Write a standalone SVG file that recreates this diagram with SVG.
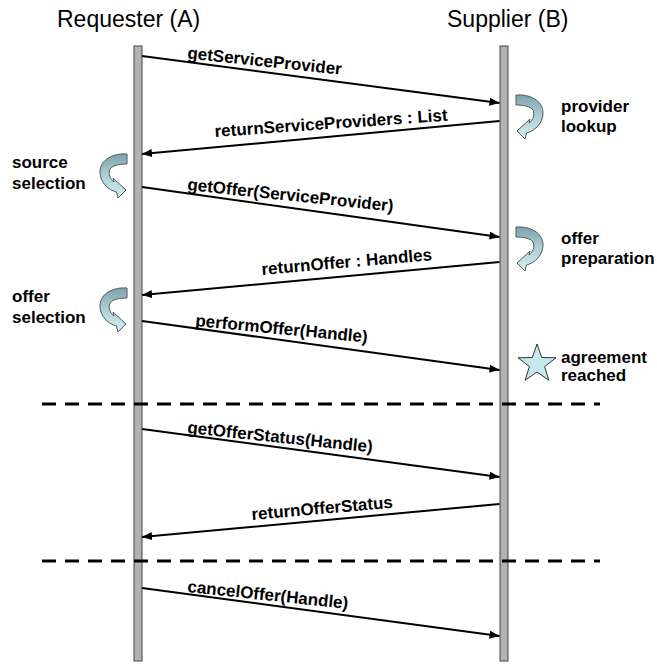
<svg xmlns="http://www.w3.org/2000/svg" width="657" height="664" viewBox="0 0 657 664">
  <style>
    .title { font-family: "Liberation Sans", Arial, sans-serif; font-size: 23px; fill: #000; }
    .msg { font-family: "Liberation Sans", Arial, sans-serif; font-size: 17px; font-weight: bold; fill: #000; }
    .note { font-family: "Liberation Sans", Arial, sans-serif; font-size: 17px; font-weight: bold; fill: #000; }
    .life { fill: #b2b2b2; stroke: #444; stroke-width: 1; }
    .conn { stroke: #000; stroke-width: 2; fill: none; marker-end: url(#ah); }
    .sep { stroke: #000; stroke-width: 3; stroke-dasharray: 14 9; fill: none; }
    .turn { fill: url(#turnFill); stroke: #555; stroke-width: 1; }
    .star { fill: #c6e9ed; stroke: #333; stroke-width: 1; }
  </style>
  <defs>
    <marker id="ah" viewBox="0 0 10 8" refX="10" refY="4" markerWidth="10" markerHeight="8" markerUnits="userSpaceOnUse" orient="auto">
      <path d="M0,0 L10,4 L0,8 z" fill="#000"/>
    </marker>
    <linearGradient id="turnFill" x1="0" y1="0" x2="0" y2="1">
      <stop offset="0" stop-color="#7aa2aa"/>
      <stop offset="0.45" stop-color="#a9cdd3"/>
      <stop offset="1" stop-color="#d2f0f4"/>
    </linearGradient>
    <!-- U-turn ribbon arrow, bulging to the right, arrowhead pointing back left -->
    <path id="uturn" d="M1,1 C14,0 28,6 28,19 C28,29 20,37 11.5,39 L10,45 L2,37 L15,25 L14,29 C18,26 20,21 18,16 C15,12 8,11 1,11 Z"/>
  </defs>

  <rect width="657" height="664" fill="#fff"/>

  <!-- participants -->
  <g id="requester">
    <text class="title" x="57" y="27">Requester (A)</text>
    <rect class="life" x="134" y="46" width="8" height="615"/>
  </g>
  <g id="supplier">
    <text class="title" x="447" y="27">Supplier (B)</text>
    <rect class="life" x="500" y="46" width="8" height="615"/>
  </g>

  <!-- local activities -->
  <g id="provider-lookup">
    <use href="#uturn" class="turn" transform="translate(515,94)"/>
    <text class="note" x="561" y="112">provider</text>
    <text class="note" x="561" y="132">lookup</text>
  </g>
  <g id="source-selection">
    <use href="#uturn" class="turn" transform="translate(128,153) scale(-1,1)"/>
    <text class="note" x="12" y="168">source</text>
    <text class="note" x="12" y="189">selection</text>
  </g>
  <g id="offer-preparation">
    <use href="#uturn" class="turn" transform="translate(515,226)"/>
    <text class="note" x="561" y="244">offer</text>
    <text class="note" x="561" y="264">preparation</text>
  </g>
  <g id="offer-selection">
    <use href="#uturn" class="turn" transform="translate(128,287) scale(-1,1)"/>
    <text class="note" x="12" y="302">offer</text>
    <text class="note" x="12" y="323">selection</text>
  </g>
  <g id="agreement-reached">
    <polygon class="star" points="537,344 541.7,357.5 556,357.8 544.6,366.5 548.8,380.2 537,372 525.2,380.2 529.4,366.5 518,357.8 532.3,357.5"/>
    <text class="note" x="561" y="363">agreement</text>
    <text class="note" x="561" y="381">reached</text>
  </g>

  <!-- phase separators -->
  <g id="separators">
    <line class="sep" x1="42" y1="404" x2="600" y2="404"/>
    <line class="sep" x1="42" y1="561" x2="600" y2="561"/>
  </g>

  <!-- messages -->
  <g id="connectors">
    <line class="conn" x1="142" y1="56" x2="499.5" y2="103"/>
    <text class="msg" x="187" y="58.5" transform="rotate(6 187 58.5)">getServiceProvider</text>

    <line class="conn" x1="499.5" y1="121" x2="142" y2="154"/>
    <text class="msg" x="215" y="137" transform="rotate(-4 215 137)">returnServiceProviders : List</text>

    <line class="conn" x1="142" y1="187" x2="499.5" y2="237"/>
    <text class="msg" x="187" y="190" transform="rotate(6 187 190)">getOffer(ServiceProvider)</text>

    <line class="conn" x1="499.5" y1="262" x2="142" y2="295"/>
    <text class="msg" x="262" y="275" transform="rotate(-5 262 275)">returnOffer : Handles</text>

    <line class="conn" x1="142" y1="321" x2="499.5" y2="370"/>
    <text class="msg" x="195" y="326" transform="rotate(5.5 195 326)">performOffer(Handle)</text>

    <line class="conn" x1="142" y1="429" x2="499.5" y2="477"/>
    <text class="msg" x="187" y="433" transform="rotate(6 187 433)">getOfferStatus(Handle)</text>

    <line class="conn" x1="499.5" y1="504" x2="142" y2="537"/>
    <text class="msg" x="252" y="520" transform="rotate(-5 252 520)">returnOfferStatus</text>

    <line class="conn" x1="142" y1="588" x2="499.5" y2="636"/>
    <text class="msg" x="187" y="592" transform="rotate(6 187 592)">cancelOffer(Handle)</text>
  </g>
</svg>
